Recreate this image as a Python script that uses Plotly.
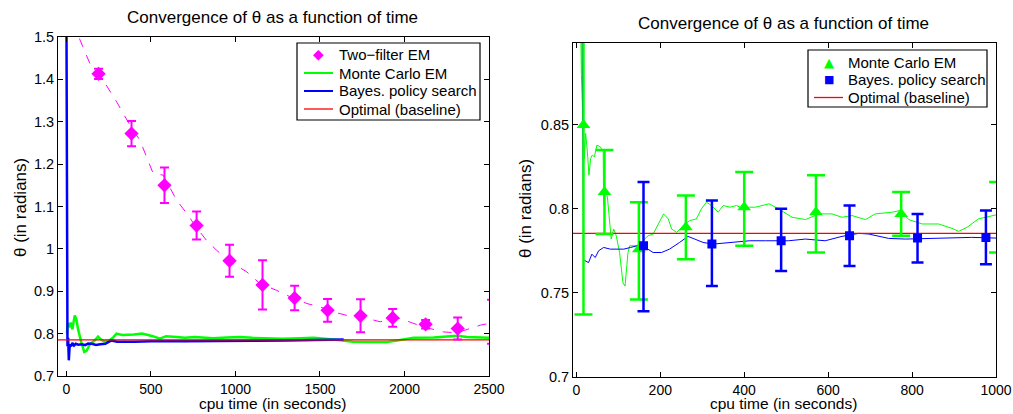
import plotly.graph_objects as go

# ---------------- Left panel data ----------------
tf_x = [190, 385, 580, 770, 965, 1160, 1350, 1545, 1740, 1930, 2125, 2315]
tf_y = [1.413, 1.272, 1.150, 1.055, 0.972, 0.915, 0.884, 0.855, 0.842, 0.837, 0.822, 0.812]
tf_err = [0.012, 0.030, 0.042, 0.033, 0.038, 0.058, 0.029, 0.027, 0.039, 0.021, 0.010, 0.026]
tf_edge_x = [2515]
tf_edge_y = [0.828]
tf_edge_err = [0.052]

tf_line_x = [40, 73, 138, 217, 300, 385, 434, 470, 513, 572, 612, 652, 711, 770, 829, 888, 965,
             1066, 1145, 1244, 1323, 1422, 1501, 1580, 1659, 1777, 1856, 1930, 1975, 2054, 2152,
             2231, 2310, 2389, 2449, 2500]
tf_line_y = [1.58, 1.5, 1.438, 1.398, 1.345, 1.285, 1.257, 1.22, 1.178, 1.174, 1.146, 1.115, 1.084,
             1.05, 1.02, 0.997, 0.97, 0.946, 0.918, 0.902, 0.887, 0.871, 0.863, 0.851, 0.843,
             0.836, 0.828, 0.835, 0.836, 0.824, 0.812, 0.804, 0.802, 0.812, 0.82, 0.824]

mc_l_x = [3, 8, 15, 25, 35, 49, 58, 69, 85, 105, 118, 135, 148, 165, 187, 205, 225, 250, 275, 296,
          330, 365, 400, 448, 511, 553, 590, 650, 700, 760, 867, 950, 1027, 1100, 1185, 1280, 1383,
          1462, 1580, 1696, 1800, 1896, 1975, 2054, 2172, 2250, 2310, 2370, 2440, 2500]
mc_l_y = [0.80, 0.825, 0.815, 0.826, 0.81, 0.843, 0.835, 0.81, 0.784, 0.757, 0.759, 0.772, 0.778,
          0.783, 0.793, 0.786, 0.781, 0.783, 0.79, 0.80, 0.797, 0.797, 0.798, 0.80, 0.794, 0.788,
          0.794, 0.792, 0.79, 0.792, 0.789, 0.791, 0.792, 0.790, 0.789, 0.788, 0.789, 0.79, 0.786,
          0.781, 0.780, 0.780, 0.785, 0.790, 0.791, 0.793, 0.795, 0.792, 0.791, 0.790]

bp_l_x = [0, 2, 6, 10, 14, 18, 22, 28, 35, 45, 55, 70, 90, 110, 128, 150, 175, 200, 230, 266, 300,
          400, 500, 700, 900, 1100, 1300, 1500, 1640]
bp_l_y = [1.55, 0.80, 0.77, 0.79, 0.737, 0.765, 0.775, 0.77, 0.778, 0.772, 0.776, 0.774, 0.775,
          0.773, 0.7766, 0.776, 0.773, 0.775, 0.776, 0.784, 0.781, 0.781, 0.782, 0.782, 0.782,
          0.783, 0.784, 0.785, 0.786]

opt_l_x = [-50, 2500]
opt_value = 0.7854

# ---------------- Right panel data ----------------
mc_r_x = [8, 12, 16, 19, 22, 26, 30, 34, 38, 43, 49, 57, 64, 65, 69, 74, 78, 83, 89, 95, 103, 111,
          116, 123, 127, 143, 155, 171, 183, 195, 208, 219, 227, 239, 255, 270, 286, 298, 310, 322,
          338, 350, 366, 382, 397, 413, 427, 459, 482, 514, 546, 578, 609, 633, 657, 689, 712, 752,
          772, 792, 824, 863, 895, 911, 931, 958, 1000]
mc_r_y = [0.95, 0.88, 0.85, 0.83, 0.845, 0.835, 0.82, 0.83, 0.832, 0.831, 0.838, 0.837, 0.834,
          0.802, 0.811, 0.807, 0.796, 0.782, 0.788, 0.784, 0.774, 0.756, 0.754, 0.774, 0.778, 0.778,
          0.780, 0.784, 0.785, 0.791, 0.797, 0.794, 0.788, 0.786, 0.790, 0.793, 0.794, 0.800, 0.804,
          0.802, 0.798, 0.802, 0.801, 0.802, 0.800, 0.801, 0.801, 0.803, 0.800, 0.795, 0.7936, 0.797,
          0.797, 0.795, 0.796, 0.7936, 0.797, 0.798, 0.799, 0.7936, 0.791, 0.791, 0.7884, 0.7866,
          0.789, 0.794, 0.7964]

bp_r_x = [7, 14, 16.6, 17, 21, 29, 37, 45, 53, 65, 81, 97, 113, 129, 145, 164, 183, 203, 222, 246,
          266, 282, 302, 325, 349, 373, 397, 413, 451, 506, 546, 593, 633, 673, 697, 744, 784, 863,
          942, 1000]
bp_r_y = [0.95, 0.9, 0.80, 0.770, 0.769, 0.768, 0.773, 0.771, 0.775, 0.777, 0.776, 0.776, 0.776,
          0.777, 0.778, 0.777, 0.774, 0.774, 0.776, 0.780, 0.7836, 0.782, 0.780, 0.779, 0.7796,
          0.780, 0.781, 0.781, 0.781, 0.781, 0.782, 0.781, 0.7836, 0.7854, 0.785, 0.7824, 0.782,
          0.7824, 0.783, 0.7826]

mc_m_x = [17, 67, 149, 261, 400, 571, 774]
mc_m_y = [0.850, 0.810, 0.776, 0.789, 0.801, 0.798, 0.797]
mc_m_hi = [0.960, 0.835, 0.804, 0.808, 0.822, 0.820, 0.810]
mc_m_lo = [0.737, 0.785, 0.746, 0.770, 0.778, 0.774, 0.784]
mc_edge_x = [1005]
mc_edge_y = [0.795]
mc_edge_hi = [0.816]
mc_edge_lo = [0.774]

bp_m_x = [160, 323, 488, 651, 813, 976]
bp_m_y = [0.778, 0.779, 0.781, 0.784, 0.7826, 0.783]
bp_m_hi = [0.816, 0.805, 0.800, 0.802, 0.797, 0.799]
bp_m_lo = [0.739, 0.754, 0.763, 0.766, 0.768, 0.767]

opt_r_x = [-8, 1000]

# Legend labels
legend_left = ["Two\u2212filter EM", "Monte Carlo EM", "Bayes. policy search", "Optimal (baseline)"]
legend_right = ["Monte Carlo EM", "Bayes. policy search", "Optimal (baseline)"]

# ---------------- Styles ----------------
MAG = "#ff00ff"
GRN = "#00ff00"
BLU = "#0000ff"
RED = "#ff0000"
FONT = "Liberation Sans, Arial, Helvetica, sans-serif"

W, H = 1013, 414


def PX(px):
    return px / W


def PY(py):
    return 1 - py / H


fig = go.Figure()

# Left panel
fig.add_trace(go.Scatter(x=tf_line_x, y=tf_line_y, mode="lines", xaxis="x", yaxis="y",
                         line=dict(color=MAG, width=1, dash="dash"), hoverinfo="skip"))
fig.add_trace(go.Scatter(x=mc_l_x, y=mc_l_y, mode="lines", xaxis="x", yaxis="y",
                         name=legend_left[1], line=dict(color=GRN, width=2.5)))
fig.add_trace(go.Scatter(x=bp_l_x, y=bp_l_y, mode="lines", xaxis="x", yaxis="y",
                         name=legend_left[2], line=dict(color=BLU, width=2.5)))
fig.add_trace(go.Scatter(x=opt_l_x, y=[opt_value] * len(opt_l_x), mode="lines", xaxis="x",
                         yaxis="y", name=legend_left[3], line=dict(color=RED, width=1.3)))
fig.add_trace(go.Scatter(x=tf_x, y=tf_y, mode="markers", xaxis="x", yaxis="y",
                         name=legend_left[0],
                         marker=dict(symbol="diamond", size=11, color=MAG),
                         error_y=dict(type="data", array=tf_err, color=MAG, thickness=2, width=4.5)))
fig.add_trace(go.Scatter(x=tf_edge_x, y=tf_edge_y, mode="markers", xaxis="x", yaxis="y",
                         marker=dict(size=1, color="rgba(0,0,0,0)"),
                         error_y=dict(type="data", array=tf_edge_err, color=MAG, thickness=2,
                                      width=4.5), hoverinfo="skip"))

# Right panel
fig.add_trace(go.Scatter(x=mc_r_x, y=mc_r_y, mode="lines", xaxis="x2", yaxis="y2",
                         line=dict(color=GRN, width=1)))
fig.add_trace(go.Scatter(x=bp_r_x, y=bp_r_y, mode="lines", xaxis="x2", yaxis="y2",
                         line=dict(color=BLU, width=1)))
fig.add_trace(go.Scatter(x=opt_r_x, y=[opt_value] * len(opt_r_x), mode="lines", xaxis="x2",
                         yaxis="y2", name=legend_right[2], line=dict(color=RED, width=1.3)))
fig.add_trace(go.Scatter(x=mc_m_x, y=mc_m_y, mode="markers", xaxis="x2", yaxis="y2",
                         name=legend_right[0],
                         marker=dict(symbol="triangle-up", size=12, color=GRN),
                         error_y=dict(type="data", symmetric=False,
                                      array=[h - v for h, v in zip(mc_m_hi, mc_m_y)],
                                      arrayminus=[v - l for l, v in zip(mc_m_lo, mc_m_y)],
                                      color=GRN, thickness=2.5, width=9)))
fig.add_trace(go.Scatter(x=mc_edge_x, y=mc_edge_y, mode="markers", xaxis="x2", yaxis="y2",
                         marker=dict(size=1, color="rgba(0,0,0,0)"),
                         error_y=dict(type="data", symmetric=False,
                                      array=[h - v for h, v in zip(mc_edge_hi, mc_edge_y)],
                                      arrayminus=[v - l for l, v in zip(mc_edge_lo, mc_edge_y)],
                                      color=GRN, thickness=2.5, width=9), hoverinfo="skip"))
fig.add_trace(go.Scatter(x=bp_m_x, y=bp_m_y, mode="markers", xaxis="x2", yaxis="y2",
                         name=legend_right[1],
                         marker=dict(symbol="square", size=9, color=BLU),
                         error_y=dict(type="data", symmetric=False,
                                      array=[h - v for h, v in zip(bp_m_hi, bp_m_y)],
                                      arrayminus=[v - l for l, v in zip(bp_m_lo, bp_m_y)],
                                      color=BLU, thickness=2.5, width=6)))

axis_base = dict(showline=True, linecolor="black", linewidth=1, mirror="ticks",
                 ticks="inside", ticklen=5, tickcolor="black", showgrid=False,
                 zeroline=False, automargin=False)
xaxis_common = dict(axis_base, tickfont=dict(family=FONT, size=14, color="black"))
yaxis_common = dict(axis_base, tickfont=dict(family=FONT, size=14.5, color="black"))

fig.update_layout(
    width=W, height=H,
    margin=dict(l=0, r=0, t=0, b=0, pad=0),
    paper_bgcolor="white", plot_bgcolor="white",
    font=dict(family=FONT, size=14, color="black"),
    showlegend=False,
    xaxis=dict(domain=[PX(58), PX(489)], range=[-50, 2500],
               tickvals=[0, 500, 1000, 1500, 2000, 2500], anchor="y", **xaxis_common),
    yaxis=dict(domain=[PY(376), PY(37)], range=[0.7, 1.5],
               tickvals=[0.7, 0.8, 0.9, 1.0, 1.1, 1.2, 1.3, 1.4, 1.5], anchor="x",
               **yaxis_common),
    xaxis2=dict(domain=[PX(573), PX(996)], range=[-8, 1000],
                tickvals=[0, 200, 400, 600, 800, 1000], anchor="y2", **xaxis_common),
    yaxis2=dict(domain=[PY(376.7), PY(42.7)], range=[0.7, 0.899],
                tickvals=[0.7, 0.75, 0.8, 0.85], anchor="x2", **yaxis_common),
)

title_font = dict(family=FONT, size=17, color="black")
xlab_font = dict(family=FONT, size=15.5, color="black")
annotations = [
    dict(text="Convergence of \u03b8 as a function of time", x=PX(272), y=PY(18), font=title_font),
    dict(text="Convergence of \u03b8 as a function of time", x=PX(783), y=PY(23), font=title_font),
    dict(text="cpu time (in seconds)", x=PX(272), y=0, font=xlab_font, yanchor="bottom"),
    dict(text="cpu time (in seconds)", x=PX(783), y=0, font=xlab_font, yanchor="bottom"),
    dict(text="\u03b8 (in radians)", x=PX(20), y=PY(208), textangle=-90, font=title_font),
    dict(text="\u03b8 (in radians)", x=PX(525), y=PY(209), textangle=-90, font=title_font),
]
for a in annotations:
    a.setdefault("yanchor", "middle")
    a.update(xref="paper", yref="paper", showarrow=False, xanchor="center")

shapes = []
leg_font = dict(family=FONT, size=15, color="black")


def add_legend(box, rows, text_x, sample_x0, sample_x1, entries):
    x0, y0, x1, y1 = box
    shapes.append(dict(type="rect", xref="paper", yref="paper",
                       x0=PX(x0), x1=PX(x1), y0=PY(y1), y1=PY(y0),
                       line=dict(color="black", width=1.2), fillcolor="white", layer="above"))
    for ry, (label, color, kind, size) in zip(rows, entries):
        annotations.append(dict(text=label, x=PX(text_x), y=PY(ry), xref="paper", yref="paper",
                                showarrow=False, xanchor="left", yanchor="middle", font=leg_font))
        if kind == "line":
            shapes.append(dict(type="line", xref="paper", yref="paper",
                               x0=PX(sample_x0), x1=PX(sample_x1), y0=PY(ry), y1=PY(ry),
                               line=dict(color=color, width=size), layer="above"))
        else:
            annotations.append(dict(text=kind, x=PX((sample_x0 + sample_x1) / 2), y=PY(ry),
                                    xref="paper", yref="paper", showarrow=False,
                                    xanchor="center", yanchor="middle",
                                    font=dict(family="DejaVu Sans", size=size, color=color)))


add_legend((297, 43, 480, 120), [54, 73, 91, 109], 337, 304, 333,
           [(legend_left[0], MAG, "\u25c6", 14),
            (legend_left[1], GRN, "line", 2),
            (legend_left[2], BLU, "line", 2),
            (legend_left[3], RED, "line", 1.3)])
add_legend((808, 50, 987, 107), [62, 79.5, 97.5], 846, 814, 843,
           [(legend_right[0], GRN, "\u25b2", 13),
            (legend_right[1], BLU, "\u25a0", 11),
            (legend_right[2], RED, "line", 1.3)])

fig.update_layout(annotations=annotations, shapes=shapes)

# remove the default 8px page margin so the 1013x414 figure fills the window exactly
fig.write_html("out.html", config={"displayModeBar": False},
               post_script="document.body.style.margin='0px';")
